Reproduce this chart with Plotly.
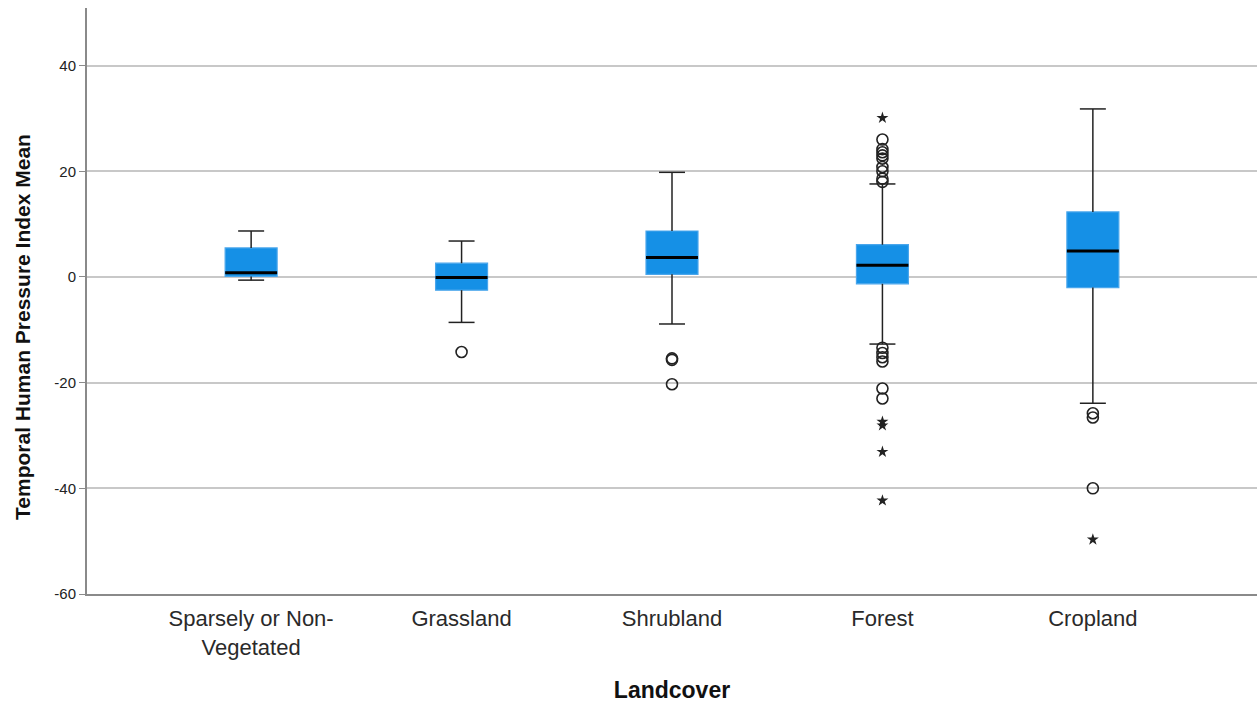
import plotly.graph_objects as go

# Landcover categories and box statistics (Temporal Human Pressure Index Mean)
categories = ["Sparsely or Non-<br>Vegetated", "Grassland", "Shrubland", "Forest", "Cropland"]
positions = [0, 1, 2, 3, 4]
q1 = [0.1, -2.5, 0.5, -1.3, -2.0]
median = [0.8, -0.1, 3.7, 2.2, 4.9]
q3 = [5.5, 2.6, 8.7, 6.1, 12.3]
lower_whisker = [-0.6, -8.6, -8.9, -12.7, -23.9]
upper_whisker = [8.7, 6.8, 19.8, 17.6, 31.8]

# Y-axis ticks
y_ticks = [-60, -40, -20, 0, 20, 40]
y_tick_labels = ["-60", "-40", "-20", "0", "20", "40"]

# Outliers (circles) and extreme values (stars) per category
outliers = {
    1: [-14.2],
    2: [-15.4, -15.7, -20.3],
    3: [26.0, 24.2, 23.6, 23.0, 22.4, 20.8, 20.0, 18.6, 18.0,
        -13.4, -14.4, -15.2, -16.0, -21.1, -23.0],
    4: [-25.8, -26.6, -40.0],
}
extremes = {
    3: [30.1, -27.4, -28.1, -33.1, -42.3],
    4: [-49.7],
}

BOX_W = 0.247
CAP_W = BOX_W / 2
FILL = "#1590e6"
EDGE = "#4aa6ec"
INK = "#222222"

fig = go.Figure()

# Box bodies (interquartile range)
fig.add_trace(go.Box(
    x=positions, q1=q1, median=median, q3=q3,
    lowerfence=q1, upperfence=q3,
    width=BOX_W, whiskerwidth=0,
    fillcolor=FILL, line=dict(color=EDGE, width=1.2),
    boxpoints=False, showlegend=False, hoverinfo="skip",
))

# Whiskers and caps
wx, wy = [], []
for p, lo, hi, a, b in zip(positions, lower_whisker, upper_whisker, q1, q3):
    wx += [p, p, None, p, p, None]
    wy += [b, hi, None, a, lo, None]
    wx += [p - CAP_W / 2, p + CAP_W / 2, None, p - CAP_W / 2, p + CAP_W / 2, None]
    wy += [hi, hi, None, lo, lo, None]
fig.add_trace(go.Scatter(x=wx, y=wy, mode="lines",
                         line=dict(color=INK, width=1.5),
                         showlegend=False, hoverinfo="skip"))

# Median lines
mx, my = [], []
for p, m in zip(positions, median):
    mx += [p - BOX_W / 2, p + BOX_W / 2, None]
    my += [m, m, None]
fig.add_trace(go.Scatter(x=mx, y=my, mode="lines",
                         line=dict(color="#000000", width=3),
                         showlegend=False, hoverinfo="skip"))

# Outlier circles
ox, oy = [], []
for p, vals in outliers.items():
    ox += [p] * len(vals)
    oy += vals
fig.add_trace(go.Scatter(x=ox, y=oy, mode="markers",
                         marker=dict(symbol="circle-open", size=11,
                                     color=INK, line=dict(width=1.6, color=INK)),
                         showlegend=False, hoverinfo="skip"))

# Extreme value stars
ex, ey = [], []
for p, vals in extremes.items():
    ex += [p] * len(vals)
    ey += vals
fig.add_trace(go.Scatter(x=ex, y=ey, mode="markers",
                         marker=dict(symbol="star", size=9, color=INK,
                                     line=dict(width=0)),
                         showlegend=False, hoverinfo="skip"))

fig.update_layout(
    width=1257, height=707,
    margin=dict(l=87, r=0, t=8, b=113),
    paper_bgcolor="white", plot_bgcolor="white",
    font=dict(family="Liberation Sans, Arial, sans-serif", color="#222222"),
    xaxis=dict(
        range=[-0.78, 4.78],
        tickvals=positions, ticktext=categories,
        tickfont=dict(size=22, color="#2a2a2a"),
        ticklabelstandoff=4,
        showgrid=False, zeroline=False, ticks="",
        showline=True, linecolor="#8a8a8a", linewidth=2,
        title=dict(text="<b>Landcover</b>", font=dict(size=23, color="#111111"),
                   standoff=23),
    ),
    yaxis=dict(
        range=[-60, 50.9],
        tickvals=y_ticks, ticktext=y_tick_labels,
        tickfont=dict(size=15, color="#222222"),
        showgrid=True, gridcolor="#c8c8c8", gridwidth=1.5,
        zeroline=False, ticks="outside", ticklen=6, tickcolor="#8a8a8a",
        showline=True, linecolor="#8a8a8a", linewidth=2,
    ),
    annotations=[dict(
        text="<b>Temporal Human Pressure Index Mean</b>",
        textangle=-90, font=dict(size=21, color="#111111"),
        xref="paper", yref="paper", x=-0.0556, y=0.4556,
        xanchor="center", yanchor="middle", showarrow=False,
    )],
)

fig.write_html("out.html")
